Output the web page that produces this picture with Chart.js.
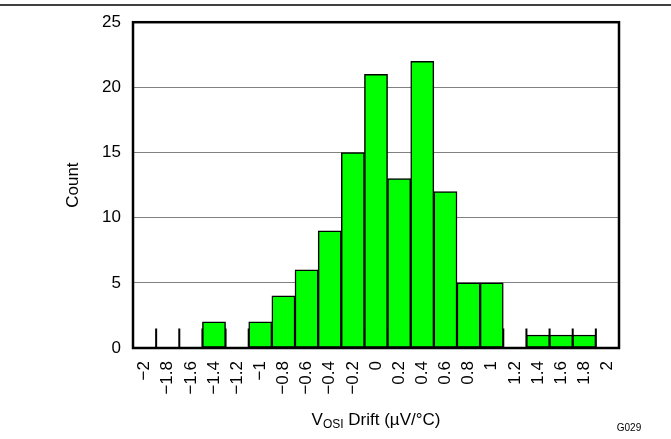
<!DOCTYPE html>
<html>
<head>
<meta charset="utf-8">
<script src="https://cdn.jsdelivr.net/npm/chart.js@4"></script>
<style>
  html, body { margin: 0; padding: 0; background: #fff; }
  #wrap { width: 671px; height: 439px; position: relative; }
</style>
</head>
<body>
<div id="wrap"><canvas id="c"></canvas></div>
<script>
const categories = ['\u22122','\u22121.8','\u22121.6','\u22121.4','\u22121.2','\u22121','\u22120.8','\u22120.6','\u22120.4','\u22120.2','0','0.2','0.4','0.6','0.8','1','1.2','1.4','1.6','1.8','2'];
const counts = [0,0,0,2,0,2,4,6,9,15,21,13,22,12,5,5,0,1,1,1,0];
const yTicks = [0,5,10,15,20,25];
const yTitle = 'Count';
const xTitleMain = 'V';
const xTitleSub = 'OSI';
const xTitleRest = ' Drift (\u00B5V/\u00B0C)';
const figureId = 'G029';

const FONT = '"Liberation Sans", Arial, sans-serif';

const decor = {
  id: 'decor',
  beforeDraw(chart) {
    const ctx = chart.ctx;
    ctx.save();
    ctx.strokeStyle = '#000';
    ctx.lineWidth = 1.5;
    ctx.beginPath();
    ctx.moveTo(0, 5);
    ctx.lineTo(chart.width, 5);
    ctx.stroke();
    ctx.restore();
  },
  beforeDatasetsDraw(chart) {
    const ctx = chart.ctx, xs = chart.scales.x, ys = chart.scales.y;
    const p0 = xs.getPixelForValue(0), step = xs.getPixelForValue(1) - p0;
    const yb = ys.getPixelForValue(0), yt = ys.getPixelForValue(1.5);
    ctx.save();
    ctx.strokeStyle = '#000';
    ctx.lineWidth = 2;
    ctx.beginPath();
    for (let i = 0; i <= categories.length; i++) {
      const x = p0 + (i - 0.5) * step;
      ctx.moveTo(x, yb);
      ctx.lineTo(x, yt);
    }
    ctx.stroke();
    ctx.restore();
  },
  afterDatasetsDraw(chart) {
    const ctx = chart.ctx, a = chart.chartArea;
    ctx.save();
    ctx.strokeStyle = '#000';
    ctx.lineWidth = 2.5;
    ctx.strokeRect(a.left, a.top, a.right - a.left, a.bottom - a.top);
    ctx.restore();
  },
  afterDraw(chart) {
    const ctx = chart.ctx, a = chart.chartArea;
    ctx.save();
    ctx.fillStyle = '#000';
    // y title
    ctx.font = '17px ' + FONT;
    ctx.textAlign = 'center';
    ctx.textBaseline = 'middle';
    ctx.translate(73, (a.top + a.bottom) / 2);
    ctx.rotate(-Math.PI / 2);
    ctx.fillText(yTitle, 0, 0);
    ctx.setTransform(chart.currentDevicePixelRatio, 0, 0, chart.currentDevicePixelRatio, 0, 0);
    // x title with subscript
    ctx.textAlign = 'left';
    ctx.textBaseline = 'alphabetic';
    const bigF = '17px ' + FONT, smallF = '12px ' + FONT;
    ctx.font = bigF; const w1 = ctx.measureText(xTitleMain).width;
    const w3 = ctx.measureText(xTitleRest).width;
    ctx.font = smallF; const w2 = ctx.measureText(xTitleSub).width;
    const total = w1 + w2 + w3;
    let x = (a.left + a.right) / 2 - total / 2;
    const base = 425;
    ctx.font = bigF; ctx.fillText(xTitleMain, x, base); x += w1;
    ctx.font = smallF; ctx.fillText(xTitleSub, x, base + 3); x += w2;
    ctx.font = bigF; ctx.fillText(xTitleRest, x, base);
    // figure id
    ctx.font = '10px ' + FONT;
    ctx.textAlign = 'center';
    ctx.textBaseline = 'middle';
    ctx.fillText(figureId, 629, 428);
    ctx.restore();
  }
};

new Chart(document.getElementById('c'), {
  type: 'bar',
  data: {
    labels: categories,
    datasets: [{
      data: counts,
      backgroundColor: '#00FF00',
      borderColor: '#000',
      borderWidth: 1.5,
      borderSkipped: false,
      barPercentage: 1,
      categoryPercentage: 1
    }]
  },
  options: {
    responsive: true,
    maintainAspectRatio: false,
    animation: false,
    layout: { padding: { top: 19.5, right: 52, left: 0, bottom: 0 } },
    plugins: { legend: { display: false }, tooltip: { enabled: false } },
    scales: {
      x: {
        type: 'category',
        offset: true,
        grid: { display: false, drawTicks: false },
        border: { display: false },
        ticks: {
          font: { family: FONT, size: 17 },
          color: '#000',
          minRotation: 90,
          maxRotation: 90,
          padding: 13,
          autoSkip: false
        },
        afterFit(s) { s.height = 91; }
      },
      y: {
        min: 0,
        max: 25,
        afterBuildTicks(s) { s.ticks = yTicks.map(v => ({ value: v })); },
        grid: { color: '#808080', lineWidth: 1, drawTicks: false },
        border: { display: false },
        ticks: {
          font: { family: FONT, size: 17 },
          color: '#000',
          padding: 12
        },
        afterFit(s) { s.width = 133; }
      }
    }
  },
  plugins: [decor]
});
</script>
</body>
</html>
